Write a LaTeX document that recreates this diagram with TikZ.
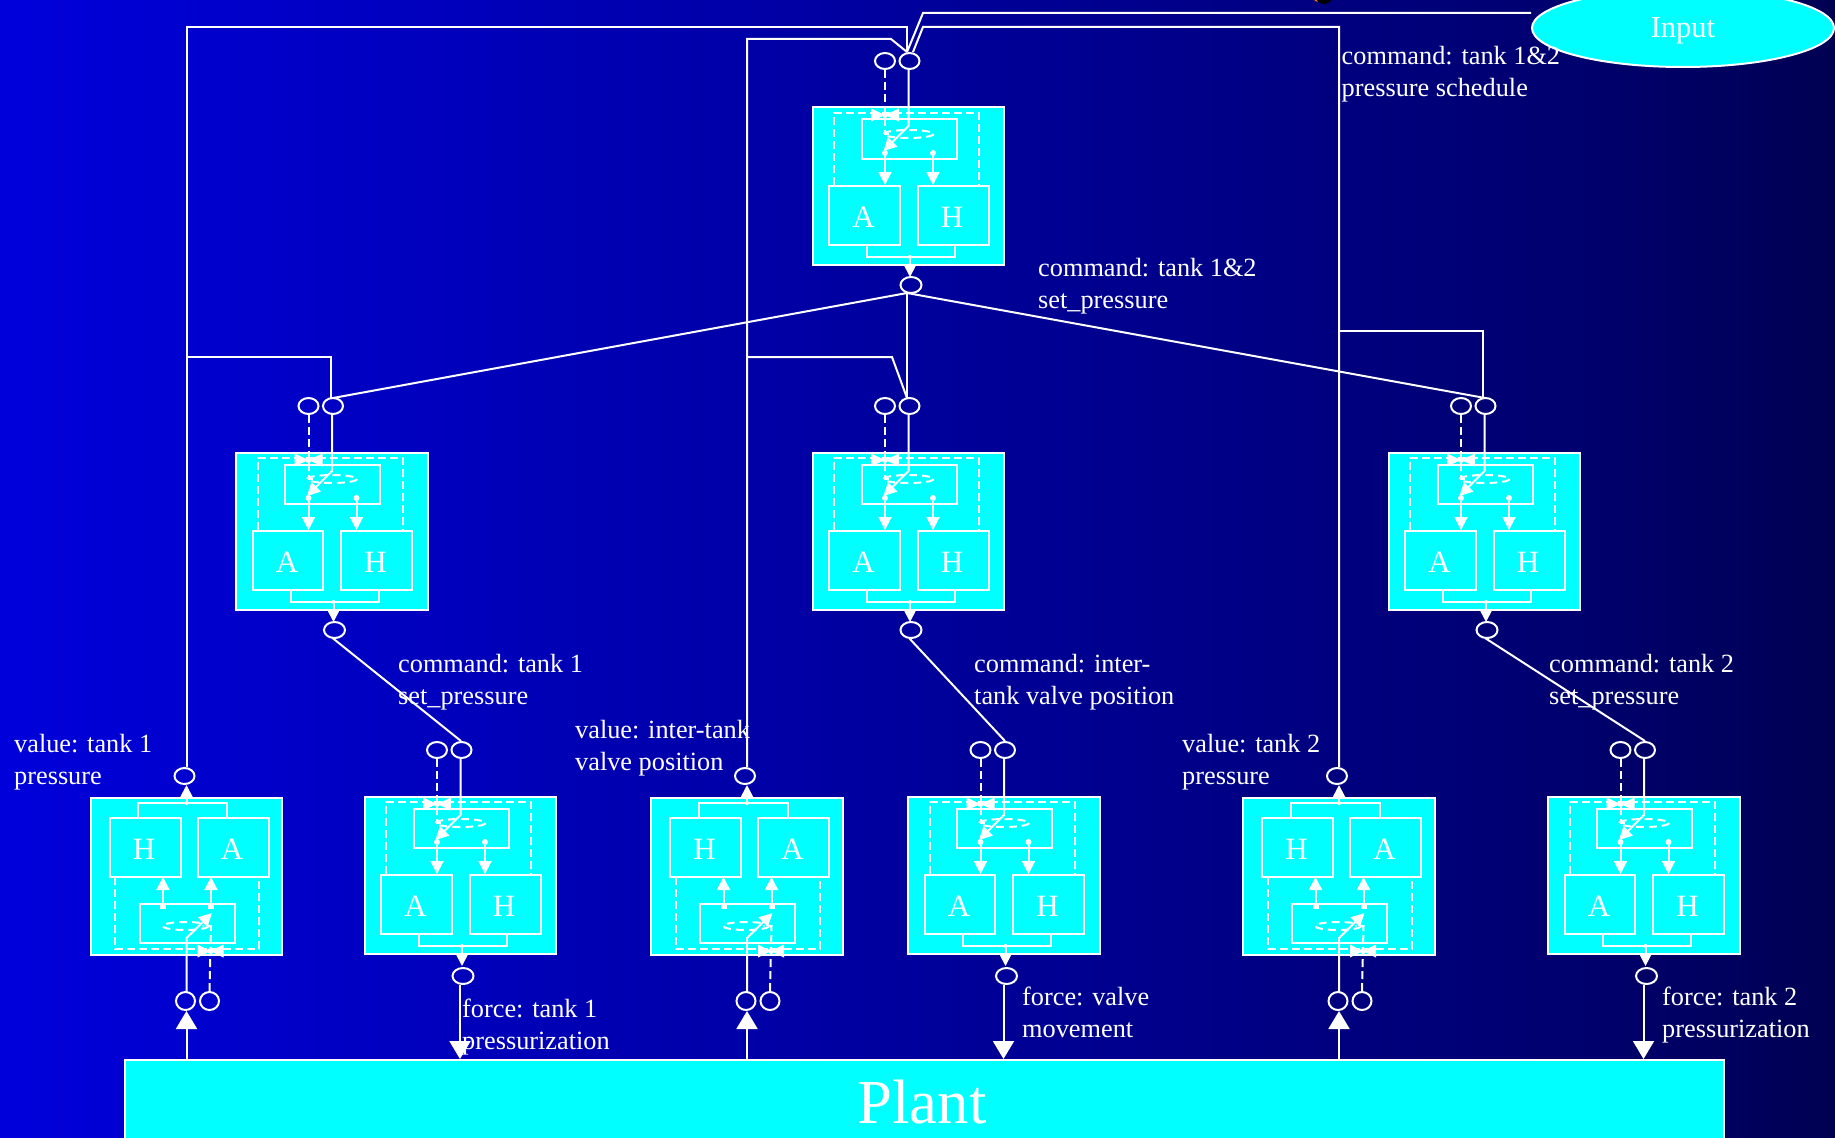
\documentclass[tikz,border=0pt]{standalone}
\usepackage{fontspec}
\setmainfont{Liberation Serif}
\usetikzlibrary{arrows.meta,shapes.geometric,calc}
\definecolor{bgmid}{RGB}{0,0,110}
\pgfdeclarehorizontalshading{bgshade}{100bp}{color(0bp)=(blue); color(11bp)=(blue); color(68bp)=(bgmid); color(96bp)=(black); color(100bp)=(black)}
\definecolor{cyan}{RGB}{0,255,255}
\newcommand{\ltr}[1]{\raisebox{-12pt}[0pt][0pt]{\kern-2pt #1}}
\tikzset{
  ln/.style={draw=white,line width=2pt},
  dsh/.style={draw=white,line width=2pt,dash pattern=on 8pt off 4pt},
  cyanbox/.style={draw=white,line width=2pt,fill=cyan,rectangle,inner sep=0pt},
  subbox/.style={draw=white,line width=2pt,rectangle,inner sep=0pt,text=white,font=\fontsize{31}{32}\selectfont},
  port/.style={draw=white,line width=2pt,ellipse,inner sep=0pt,minimum width=20pt,minimum height=16pt},
  dotn/.style={fill=white,circle,inner sep=0pt,minimum size=6pt},
  arr/.style={ln,-{Triangle[length=13pt,width=13pt]}},
  bigarr/.style={ln,-{Triangle[length=18pt,width=21pt]}},
  lab/.style={text=white,align=left,anchor=west,inner sep=0pt,font=\fontsize{26.3}{32}\selectfont},
}
% controller opening downward: inputs above, output below
\newcommand{\ctrldown}[4][178]{%
\begin{scope}[shift={(#3,#4)}]
  \node[cyanbox,minimum width=191.5pt,minimum height=157pt] (#2) at (0,79) {};
  \node[subbox,minimum width=95pt,minimum height=39pt] (#2s) at (0.5,32) {};
  \node[subbox,minimum width=70.5pt,minimum height=59pt] (#2a) at (-44,108) {\ltr{A}};
  \node[subbox,minimum width=71pt,minimum height=59pt] (#2h) at (44.5,108) {\ltr{H}};
  \node[port] (#2p) at (-23.5,-46) {};
  \node[port] (#2q) at (1,-46) {};
  \node[port,minimum width=21pt] (#2out) at (2.5,#1) {};
  \node[dotn] (#2d1) at (-23.5,46) {};
  \node[dotn] (#2d2) at (24.5,46) {};
  \node[dotn,minimum size=4pt] (#2d3) at (1.5,150) {};
  \draw[dsh] (-74.5,78) -- (-74.5,6) -- (70.5,6) -- (70.5,78);
  \draw[ln] (-41.5,138) -- (-41.5,150) -- (46.5,150) -- (46.5,138);
  \draw[dsh] (#2p.south) -- (-23.5,27) -- (-16,27);
  \draw[dsh,dash pattern=on 8pt off 5pt] (0,27) ellipse [x radius=25,y radius=4];
  \fill[white] (-37.5,1.5) -- (-23.5,8) -- (-37.5,14.5) -- cycle;
  \fill[white] (-9.5,1.5) -- (-23.5,8) -- (-9.5,14.5) -- cycle;
  \fill[white] (-23.5,8) circle (3);
  \draw[arr] (0,-38) -- (0,19) -- (-25,44);
  \draw[arr] (#2d1) -- (-23.5,78);
  \draw[arr] (#2d2) -- (24.5,78);
  \draw[arr] (#2d3) -- (1.5,170);
\end{scope}}
% controller opening upward: inputs below, output above
\newcommand{\ctrlup}[3]{%
\begin{scope}[shift={(#2,#3)}]
  \node[cyanbox,minimum width=191.5pt,minimum height=157.5pt] (#1) at (0,79.5) {};
  \node[subbox,minimum width=95pt,minimum height=39pt] (#1s) at (0.5,126) {};
  \node[subbox,minimum width=71pt,minimum height=59pt] (#1h) at (-41.5,50) {\ltr{H}};
  \node[subbox,minimum width=71pt,minimum height=59pt] (#1a) at (46.5,50) {\ltr{A}};
  \node[port,minimum height=18pt,minimum width=19pt] (#1p) at (-1,204) {};
  \node[port,minimum height=18pt,minimum width=19pt] (#1q) at (23,204) {};
  \node[port] (#1out) at (-2,-21) {};
  \node[fill=white,rectangle,inner sep=0pt,minimum width=6pt,minimum height=4pt] (#1d1) at (-23.5,110) {};
  \node[fill=white,rectangle,inner sep=0pt,minimum width=6pt,minimum height=4pt] (#1d2) at (24.5,110) {};
  \node[dotn,minimum size=4pt] (#1d3) at (0,6) {};
  \draw[dsh] (-71.5,80) -- (-71.5,152) -- (72.5,152) -- (72.5,80);
  \draw[ln] (-48.5,20) -- (-48.5,6) -- (40.5,6) -- (40.5,20);
  \draw[dsh] (#1q.north) -- (24.5,129) -- (16,129);
  \draw[dsh,dash pattern=on 8pt off 5pt] (-1,129) ellipse [x radius=23,y radius=4];
  \fill[white] (11,147.5) -- (24,154) -- (11,160.5) -- cycle;
  \fill[white] (37,147.5) -- (24,154) -- (37,160.5) -- cycle;
  \fill[white] (24,154) circle (3);
  \draw[arr] (0,195) -- (0,141) -- (25.5,116);
  \draw[arr] (#1d1) -- (-23.5,80);
  \draw[arr] (#1d2) -- (24.5,80);
  \draw[arr] (#1d3) -- (0,-12);
\end{scope}}
\begin{document}
\begin{tikzpicture}[x=1pt,y=-1pt]
\useasboundingbox (0,0) rectangle (1835,1137);
\clip (0,0) rectangle (1835,1137);
\shade[shading=bgshade] (0,0) rectangle (1835,1137);
\fill[orange] (1319,-5) circle (7);
\fill[black] (1324,-5) circle (9);
% plant
\node[cyanbox,minimum width=1599pt,minimum height=200pt] (plant) at (924.5,1160) {};
\node[text=white,inner sep=0pt,font=\fontsize{62.7}{64}\selectfont] (plantlab) at (922,1102) {Plant};
% input
\node[cyanbox,ellipse,minimum width=302pt,minimum height=78pt] (input) at (1683,28) {};
\node[text=white,inner sep=0pt,font=\fontsize{30.5}{32}\selectfont] (inputlab) at (1683,31) {Input};
% controllers
\ctrldown{top}{908.5}{107}
\ctrldown{ml}{332}{452}
\ctrldown{mm}{908.5}{452}
\ctrldown{mr}{1484.5}{452}
\ctrldown[180]{cl}{460.5}{796}
\ctrldown[180]{cm}{1004}{796}
\ctrldown[180]{cr}{1644}{796}
\ctrlup{vl}{186.5}{797}
\ctrlup{vm}{747}{797}
\ctrlup{vr}{1339}{797}
% junction at the top port
\coordinate (tj) at (907,52);
% input line and feedback lines into the top controller
\draw[ln] (input.west |- 0,13) -- (923,13) -- (tj);
\draw[ln] ($(vrout.north)+(2,0)$) -- (1339,27) -- (923,27) -- (913,52);
\draw[ln] ($(vlout.north)+(2,0)$) -- (186.5,27) -- (907,27) -- (tj);
\draw[ln] ($(vmout.north)+(2,0)$) -- (747,39) -- (891,39) -- (tj);
% branches
\draw[ln] (186.5,357) -- (331,357) -- (331,398);
\draw[ln] (747,357) -- (892,357) -- (907,398);
\draw[ln] (1339,331) -- (1483,331) -- (1483,398);
% set_pressure distribution
\draw[ln] (topout.south) ++(-4,-1) coordinate (mj) -- (333,398);
\draw[ln] (mj) -- (mj |- mmq.north);
\draw[ln] (mj) -- (1485,398);
% commands
\draw[ln] (mlout.south) ++(-2,-1) -- (461,741);
\draw[ln] (mmout.south) ++(-2,-1) -- (1005,741);
\draw[ln] (mrout.south) ++(-2,-1) -- (1645,741);
% forces
\draw[bigarr] ($(clout.south)+(-3,0)$) -- ($(clout.south |- plant.north)+(-3,0)$);
\draw[bigarr] ($(cmout.south)+(-3,0)$) -- ($(cmout.south |- plant.north)+(-3,0)$);
\draw[bigarr] ($(crout.south)+(-3,0)$) -- ($(crout.south |- plant.north)+(-3,0)$);
% sensors
\draw[bigarr] (vl |- plant.north) -- (vl |- vlp.south);
\draw[bigarr] (vm |- plant.north) -- (vm |- vmp.south);
\draw[bigarr] (vr |- plant.north) -- (vr |- vrp.south);
% labels
\node[lab] (l1) at (1341.5,74.5) {command: tank 1\&2\\pressure schedule};
\node[lab] (l2) at (1038,286.5) {command: tank 1\&2\\set\_pressure};
\node[lab] (l3) at (398,682.5) {command: tank 1\\set\_pressure};
\node[lab] (l4) at (974,682.5) {command: inter-\\tank valve position};
\node[lab] (l5) at (1549,682.5) {command: tank 2\\set\_pressure};
\node[lab] (l6) at (14,762.5) {value: tank 1\\pressure};
\node[lab] (l7) at (575,748.5) {value: inter-tank\\valve position};
\node[lab] (l8) at (1182,762.5) {value: tank 2\\pressure};
\node[lab] (l9) at (462,1027.5) {force: tank 1\\pressurization};
\node[lab] (l10) at (1022,1012) {force: valve\\movement};
\node[lab] (l11) at (1662,1015) {force: tank 2\\pressurization};
\end{tikzpicture}
\end{document}
